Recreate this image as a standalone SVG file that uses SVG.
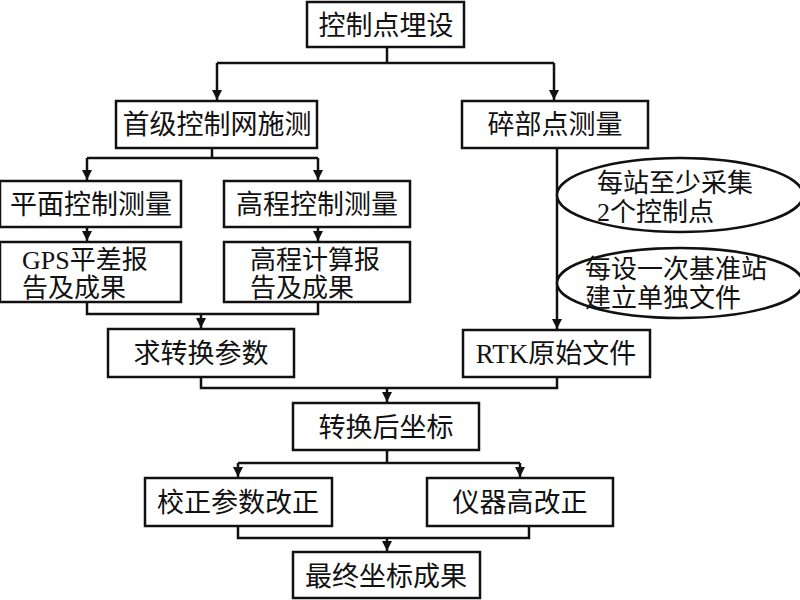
<svg xmlns="http://www.w3.org/2000/svg" width="800" height="600" viewBox="0 0 800 600">
<defs>
<style>
.box{fill:#fff;stroke:#111;stroke-width:2.5}
.ell{fill:#fff;stroke:#111;stroke-width:2.5}
.t{font-family:"Liberation Serif","Noto Sans CJK SC",serif;font-size:27px;fill:#111}
.s{font-size:26px}
.c{text-anchor:middle}
.ln{fill:none;stroke:#111;stroke-width:2.5}
</style>
<marker id="ah" viewBox="0 0 10 10" refX="10" refY="5" markerWidth="10" markerHeight="10" markerUnits="userSpaceOnUse" orient="auto">
<path d="M0,0 L10,5 L0,10 Z" fill="#111"/>
</marker>
</defs>
<rect width="800" height="600" fill="#fff"/>
<g id="connectors">
<path class="ln" d="M387,47 V63 M217,63 H554"/>
<path class="ln" d="M217,63 V100" marker-end="url(#ah)"/>
<path class="ln" d="M554,63 V100" marker-end="url(#ah)"/>
<path class="ln" d="M212,148 V158 M87,158 H318"/>
<path class="ln" d="M87,158 V180" marker-end="url(#ah)"/>
<path class="ln" d="M318,158 V180" marker-end="url(#ah)"/>
<path class="ln" d="M87,227 V241" marker-end="url(#ah)"/>
<path class="ln" d="M318,227 V241" marker-end="url(#ah)"/>
<path class="ln" d="M87,302 V314 H318 V302"/>
<path class="ln" d="M201,314 V328" marker-end="url(#ah)"/>
<path class="ln" d="M557,148 V329" marker-end="url(#ah)"/>
<path class="ln" d="M201,377 V388 H557 V377"/>
<path class="ln" d="M387,388 V402" marker-end="url(#ah)"/>
<path class="ln" d="M387,450 V463 M238,463 H520"/>
<path class="ln" d="M238,463 V477" marker-end="url(#ah)"/>
<path class="ln" d="M520,463 V477" marker-end="url(#ah)"/>
<path class="ln" d="M238,526 V538 H529 V526"/>
<path class="ln" d="M387,538 V551" marker-end="url(#ah)"/>
</g>
<g id="n1"><rect class="box" x="307" y="2" width="157" height="45"/><text class="t c" x="386" y="35">控制点埋设</text></g>
<g id="n2"><rect class="box" x="116" y="101" width="201" height="47"/><text class="t c" x="217" y="134">首级控制网施测</text></g>
<g id="n3"><rect class="box" x="462" y="101" width="186" height="47"/><text class="t c" x="555" y="134">碎部点测量</text></g>
<g id="n4"><rect class="box" x="0" y="181" width="181" height="46"/><text class="t c" x="91" y="214">平面控制测量</text></g>
<g id="n5"><rect class="box" x="224" y="181" width="186" height="46"/><text class="t c" x="317" y="214">高程控制测量</text></g>
<g id="n6"><rect class="box" x="0" y="242" width="181" height="60"/><text class="t s" x="22" y="269">GPS平差报</text><text class="t s" x="22" y="297">告及成果</text></g>
<g id="n7"><rect class="box" x="224" y="242" width="186" height="60"/><text class="t s" x="250" y="269">高程计算报</text><text class="t s" x="250" y="297">告及成果</text></g>
<g id="n8"><ellipse class="ell" cx="680" cy="195" rx="123" ry="37"/><text class="t s" x="597" y="192">每站至少采集</text><text class="t s" x="597" y="221">2个控制点</text></g>
<g id="n9"><ellipse class="ell" cx="680" cy="283" rx="123" ry="35"/><text class="t s" x="585" y="278">每设一次基准站</text><text class="t s" x="585" y="307">建立单独文件</text></g>
<g id="n10"><rect class="box" x="108" y="329" width="186" height="48"/><text class="t c" x="201" y="363">求转换参数</text></g>
<g id="n11"><rect class="box" x="463" y="330" width="187" height="47"/><text class="t c" x="556" y="363">RTK原始文件</text></g>
<g id="n12"><rect class="box" x="293" y="403" width="186" height="47"/><text class="t c" x="386" y="437">转换后坐标</text></g>
<g id="n13"><rect class="box" x="145" y="478" width="187" height="48"/><text class="t c" x="238" y="512">校正参数改正</text></g>
<g id="n14"><rect class="box" x="427" y="478" width="186" height="48"/><text class="t c" x="520" y="512">仪器高改正</text></g>
<g id="n15"><rect class="box" x="293" y="552" width="187" height="46"/><text class="t c" x="386" y="586">最终坐标成果</text></g>
</svg>
